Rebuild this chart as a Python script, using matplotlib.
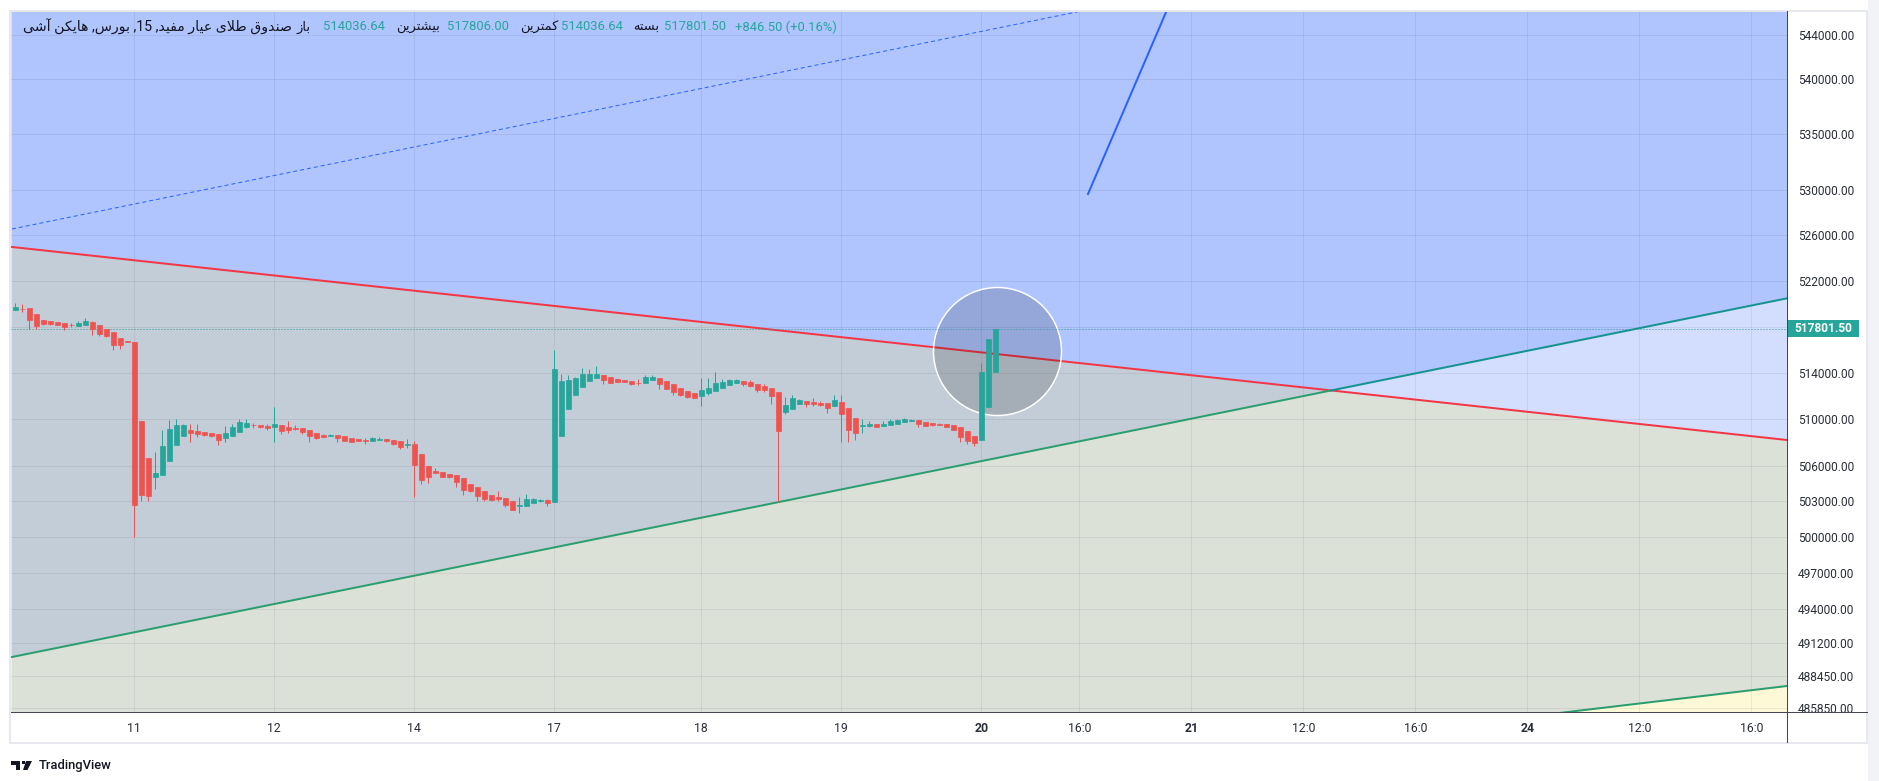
import numpy as np
import matplotlib
matplotlib.use("Agg")
import matplotlib.pyplot as plt
from matplotlib.patches import Rectangle, Polygon
from matplotlib.lines import Line2D
from matplotlib.transforms import IdentityTransform
from matplotlib.ticker import FixedLocator, NullLocator

plt.rcParams['font.family'] = ['Roboto', 'DejaVu Sans']

# Heikin Ashi candles, 15 min bars
# day order: part of previous day, 11, 12, 14, 17, 18, 19, 20
day_names = ['', '11', '12', '14', '17', '18', '19', '20']
day_counts = [17, 20, 20, 20, 21, 20, 20, 3]

opens = [
    519440, 519560, 519590, 519070, 518560, 518470, 518390, 518300, 518160, 518080, 518160, 518390, 518130, 517790, 517530, 517020, 516760,
    516680, 509840, 506680, 505080, 505250, 506450, 507820, 508590, 509070, 508980, 508900, 508810, 508730, 508410, 508590, 508930, 509360, 509530, 509500, 509410,
    509360, 509500, 509330, 509240, 509240, 509070, 508810, 508670, 508590, 508670, 508560, 508390, 508300, 508220, 508160, 508240, 508300, 508220, 508130, 507810,
    507920, 507020, 505990, 505560, 505480, 505310, 505220, 504970, 504450, 504200, 503850, 503510, 503340, 503260, 503000, 502600, 502600, 502860, 503030, 503110,
    502940, 508590, 510870, 512060, 512770, 513260, 513520, 513770, 513600, 513430, 513340, 513260, 513150, 513090, 513340, 513520, 513260, 513000, 512660, 512400, 512230,
    511980, 512230, 512400, 512660, 512920, 513090, 513260, 513170, 513000, 512830, 512660, 512320, 510610, 510870, 511290, 511550, 511460, 511380, 511380, 511120,
    511460, 510950, 510100, 509440, 509410, 509580, 509440, 509530, 509610, 509780, 509870, 509920, 509750, 509670, 509610, 509610, 509530, 509360, 509010, 508590,
    508240, 511060, 514036.64,
]
highs = [
    520010, 519930, 519590, 519070, 518560, 518470, 518390, 518300, 518300, 518470, 518730, 518470, 518130, 517790, 517530, 517020, 516760,
    516680, 509840, 506680, 507190, 509070, 509930, 510010, 509580, 509580, 509580, 508900, 508810, 508730, 509410, 509580, 510010, 510010, 509670, 509500, 509580,
    511040, 509500, 509840, 509500, 509240, 509070, 508810, 508730, 508760, 508670, 508560, 508390, 508300, 508410, 508470, 508470, 508300, 508220, 508130, 508300,
    508160, 507020, 505990, 505820, 505480, 505310, 505220, 504970, 504450, 504200, 503850, 503510, 503880, 503260, 503000, 503370, 503600, 503260, 503200, 503200,
    516000, 513860, 513770, 513600, 514370, 514290, 514540, 513770, 513600, 513430, 513340, 513260, 513430, 513770, 513770, 513520, 513260, 513000, 512660, 512400, 512230,
    513520, 513520, 514030, 513430, 513430, 513430, 513260, 513340, 513000, 513000, 512660, 512320, 511890, 512060, 511720, 511550, 511810, 511550, 511380, 512060,
    512060, 510950, 510100, 510010, 509840, 509580, 509840, 510010, 510040, 510120, 510040, 509920, 509750, 509670, 509670, 509610, 509530, 509360, 509010, 508590,
    514880, 516940, 517806.00,
]
lows = [
    519440, 519270, 517760, 517760, 518160, 518160, 518160, 517730, 517990, 518080, 518160, 517280, 517190, 517050, 516000, 516080, 516620,
    500040, 503030, 503030, 504030, 505250, 506450, 507820, 508590, 508070, 508500, 508590, 508500, 507820, 508070, 508590, 508930, 509270, 509270, 509270, 509100,
    508070, 508760, 508840, 509100, 508760, 508070, 508330, 508500, 508590, 508070, 508160, 508070, 508160, 507900, 508160, 508240, 508070, 507820, 507470, 507560,
    503370, 504480, 504570, 505390, 505080, 504990, 504220, 503540, 503800, 503030, 503030, 503030, 503030, 502510, 502260, 502000, 502600, 502860, 502940, 502600,
    502940, 508590, 510870, 512060, 512770, 513260, 513520, 513000, 513090, 513170, 513170, 512920, 512920, 513090, 513340, 512580, 512580, 512060, 511980, 511810, 511810,
    511120, 512060, 512400, 512660, 512920, 513090, 512830, 512750, 512320, 512320, 511290, 502940, 510440, 510870, 511290, 511040, 511120, 511120, 510520, 511120,
    508070, 508070, 508240, 508840, 509360, 509360, 509440, 509530, 509610, 509780, 509870, 509360, 509440, 509440, 509530, 509360, 509100, 508070, 507900, 507730,
    508240, 511060, 514036.64,
]
closes = [
    519670, 519500, 518590, 518080, 518250, 518250, 518160, 517990, 518100, 518330, 518470, 517790, 517390, 517220, 516420, 516370, 516620,
    502740, 503540, 503460, 505390, 507700, 509160, 509500, 509500, 508840, 508760, 508670, 508590, 508240, 508810, 509330, 509750, 509670, 509470, 509360, 509270,
    509580, 509010, 509100, 509180, 508930, 508590, 508410, 508500, 508670, 508410, 508160, 508070, 508160, 508160, 508390, 508300, 508130, 507900, 507640, 507920,
    506110, 504820, 505080, 505390, 505080, 505080, 504650, 503970, 503850, 503460, 503200, 503110, 503200, 502690, 502260, 502690, 503170, 503200, 503110, 502860,
    514290, 513260, 513340, 513520, 513860, 513860, 513860, 513340, 513090, 513170, 513170, 513000, 513090, 513600, 513600, 513000, 512580, 512320, 512060, 511890, 511810,
    512490, 512660, 513090, 513170, 513340, 513340, 513000, 512830, 512490, 512490, 511980, 508980, 511210, 511810, 511630, 511290, 511290, 511210, 510950, 511630,
    510470, 509100, 508840, 509530, 509610, 509360, 509610, 509870, 509950, 510040, 509950, 509610, 509440, 509530, 509530, 509360, 509100, 508500, 508160, 507990,
    514030, 516940, 517801.50,
]
last_price = 517801.50
change_text = '+846.50 (+0.16%)'

# price axis labels (518000 sits under the last price tag)
price_ticks = [544000, 540000, 535000, 530000, 526000, 522000, 518000, 514000, 510000,
               506000, 503000, 500000, 497000, 494000, 491200, 488450, 485850]
hidden_tick = 518000
future_labels = ['16:0', '21', '12:0', '16:0', '24', '12:0', '16:0']
bold_labels = ['20', '21', '24']

# drawings: (bar index, price) end points
red_line = [(-0.47, 524970), (253.1, 508220)]
rise_line = [(-0.47, 490030), (253.1, 520460)]
dash_line = [(-0.47, 526560), (151.96, 546150)]
blue_line = [(153.24, 529660), (164.4, 546100)]
low_line = [(222.96, 485605), (253.1, 487650)]
circle_center = (140.3, 515850)

UP = '#26a69a'
DOWN = '#ef5350'
TXT = '#131722'
PX = 0.72  # one pixel in points at dpi 100

W, H = 1879, 781
fig = plt.figure(figsize=(W / 100, H / 100), dpi=100)
fig.patch.set_facecolor('white')
ax = fig.add_axes([11 / W, 69 / H, 1776 / W, 700.5 / H])
ax.set_yscale('log')
xlo, xhi = -0.61, 253.1
ylo, yhi = 485524, 546150
ax.set_xlim(xlo, xhi)
ax.set_ylim(ylo, yhi)


def line_fn(pts):
    (x0, y0), (x1, y1) = pts
    b = (np.log(y1) - np.log(y0)) / (x1 - x0)
    a = np.log(y0) - b * x0
    return a, b


def line_at(pts, xs):
    a, b = line_fn(pts)
    return np.exp(a + b * np.asarray(xs))


# background zones
xs = np.linspace(xlo, xhi, 900)
r = line_at(red_line, xs)
g = line_at(rise_line, xs)
b2 = line_at(low_line, xs)
ax.fill_between(xs, np.maximum(r, g), yhi, color='#b0c4fe', lw=0, zorder=0.5)
ax.fill_between(xs, g, r, where=r >= g, interpolate=True, color='#c3cdd7', lw=0, zorder=0.5)
ax.fill_between(xs, r, g, where=g >= r, interpolate=True, color='#d3ddfe', lw=0, zorder=0.5)
ax.fill_between(xs, ylo, np.minimum(r, g), color='#dce1d8', lw=0, zorder=0.5)
ax.fill_between(xs, ylo * 0.99, b2, where=b2 > ylo * 0.99, color='#fdf8d6', lw=0, zorder=0.6)

# trend lines
ar, br = line_fn(red_line)
ag, bg = line_fn(rise_line)
x_cross = (ar - ag) / (bg - br)
ax.plot([red_line[0][0], red_line[1][0]], [red_line[0][1], red_line[1][1]], color='#f23645', lw=2 * PX, zorder=2)
ax.plot([rise_line[0][0], x_cross], line_at(rise_line, [rise_line[0][0], x_cross]), color='#2b9e6f', lw=2 * PX, zorder=2)
ax.plot([x_cross, rise_line[1][0]], line_at(rise_line, [x_cross, rise_line[1][0]]), color='#15938f', lw=2 * PX, zorder=2)
xd = [dash_line[0][0], 175]
ax.plot(xd, line_at(dash_line, xd), color='#2962ff', lw=1 * PX, ls=(0, (4, 3)), zorder=2)
ax.plot([blue_line[0][0], blue_line[1][0]], [blue_line[0][1], blue_line[1][1]], color='#2962ff', lw=2 * PX, zorder=2)
xl = [200, xhi]
ax.plot(xl, line_at(low_line, xl), color='#2b9e6f', lw=2 * PX, zorder=2)

# highlight circle
ax.scatter([circle_center[0]], [circle_center[1]], s=(128 * PX) ** 2, marker='o',
           facecolors=[(0, 0, 0, 0.15)], edgecolors='white', linewidths=1.5 * PX, zorder=2.5)

# last price line
ax.axhline(last_price, color='#2a9d9a', lw=1 * PX, ls=(0, (1, 2)), zorder=3)

# candles
o = np.array(opens)
h = np.array(highs)
l = np.array(lows)
c = np.array(closes)
x = np.arange(len(o))
cols = np.where(c >= o, UP, DOWN)
ax.vlines(x, l, h, colors=cols, lw=1 * PX, zorder=4)
ax.bar(x, np.abs(c - o), bottom=np.minimum(o, c), width=0.7, color=cols,
       edgecolor=cols, linewidth=0.5, zorder=5)

# axes and grid
starts = np.cumsum([0] + day_counts[:-1])
xticks = list(starts[1:])
xlabels = day_names[1:]
last_day = starts[-1]
for k, lab in enumerate(future_labels):
    xticks.append(last_day + 14 + 16 * k)
    xlabels.append(lab)
ax.set_xticks(xticks)
ax.set_xticklabels(xlabels)
for t in ax.get_xticklabels():
    if t.get_text() in bold_labels:
        t.set_fontweight('bold')
ax.yaxis.set_major_locator(FixedLocator(price_ticks))
ax.yaxis.set_minor_locator(NullLocator())
ax.set_yticklabels(['' if v == hidden_tick else f'{v:.2f}' for v in price_ticks])
ax.yaxis.tick_right()
ax.tick_params(axis='y', length=0, pad=8, labelsize=8.6, labelcolor='#2a2e39')
ax.tick_params(axis='x', length=0, pad=7, labelsize=8.8, labelcolor='#2a2e39')
ax.grid(True, color='#2a2e39', alpha=0.08, lw=1 * PX)
for s in ax.spines.values():
    s.set_visible(False)

# frame lines in pixels
fig.add_artist(Rectangle((10, H - 743), 1857, 732, transform=IdentityTransform(),
                         fill=False, ec='#e6e8ee', lw=2 * PX))
fig.add_artist(Rectangle((1868, 0), 11, H, transform=IdentityTransform(), fc='#f2f3f7', ec='none'))
fig.add_artist(Line2D([11, 1867], [H - 712, H - 712], transform=IdentityTransform(), color='#434651', lw=1 * PX))
fig.add_artist(Line2D([1787, 1787], [H - 742, H - 11], transform=IdentityTransform(), color='#434651', lw=1 * PX))

# last price tag
fig.canvas.draw()
_, ty = ax.transData.transform((0, last_price))
fig.add_artist(Rectangle((1787, ty - 8.5), 72, 17, transform=IdentityTransform(), fc=UP, ec='none'))
fig.text(1823 / W, ty / H, f'{last_price:.2f}', ha='center', va='center', color='white',
         fontsize=8.6, fontweight='bold')


# persian text shaping (presentation forms, visual order)
FORMS = {
    'ا': ('\uFE8D', '\uFE8E', None, None), 'آ': ('\uFE81', '\uFE82', None, None),
    'ب': ('\uFE8F', '\uFE90', '\uFE91', '\uFE92'), 'ت': ('\uFE95', '\uFE96', '\uFE97', '\uFE98'),
    'د': ('\uFEA9', '\uFEAA', None, None), 'ر': ('\uFEAD', '\uFEAE', None, None),
    'ز': ('\uFEAF', '\uFEB0', None, None),
    'س': ('\uFEB1', '\uFEB2', '\uFEB3', '\uFEB4'), 'ش': ('\uFEB5', '\uFEB6', '\uFEB7', '\uFEB8'),
    'ص': ('\uFEB9', '\uFEBA', '\uFEBB', '\uFEBC'), 'ط': ('\uFEC1', '\uFEC2', '\uFEC3', '\uFEC4'),
    'ع': ('\uFEC9', '\uFECA', '\uFECB', '\uFECC'), 'ف': ('\uFED1', '\uFED2', '\uFED3', '\uFED4'),
    'ق': ('\uFED5', '\uFED6', '\uFED7', '\uFED8'), 'ک': ('\uFB8E', '\uFB8F', '\uFB90', '\uFB91'),
    'ل': ('\uFEDD', '\uFEDE', '\uFEDF', '\uFEE0'), 'م': ('\uFEE1', '\uFEE2', '\uFEE3', '\uFEE4'),
    'ن': ('\uFEE5', '\uFEE6', '\uFEE7', '\uFEE8'), 'ه': ('\uFEE9', '\uFEEA', '\uFEEB', '\uFEEC'),
    'و': ('\uFEED', '\uFEEE', None, None), 'ی': ('\uFBFC', '\uFBFD', '\uFBFE', '\uFBFF'),
    'لا': ('\uFEFB', '\uFEFC', None, None), 'لآ': ('\uFEF5', '\uFEF6', None, None),
}


def shape_word(w):
    toks = []
    i = 0
    while i < len(w):
        if w[i] == 'ل' and i + 1 < len(w) and w[i + 1] in 'اآ':
            toks.append(w[i:i + 2])
            i += 2
        else:
            toks.append(w[i])
            i += 1
    out = []
    for k, t in enumerate(toks):
        f = FORMS[t]
        prev = k > 0 and FORMS[toks[k - 1]][2] is not None
        nxt = k < len(toks) - 1 and f[2] is not None
        if prev and nxt:
            out.append(f[3])
        elif prev:
            out.append(f[1])
        elif nxt:
            out.append(f[2])
        else:
            out.append(f[0])
    return ''.join(reversed(out))


def fa(s):
    return ' '.join(shape_word(w) for w in reversed(s.split(' ')))


title = fa('هایکن آشی') + ' ,' + fa('بورس') + ' ,15 ,' + fa('صندوق طلای عیار مفید')
header = [
    (fa('باز'), TXT, 296), ('514036.64', UP, 323),
    (fa('بیشترین'), TXT, 396), ('517806.00', UP, 447),
    (fa('کمترین'), TXT, 520), ('514036.64', UP, 561),
    (fa('بسته'), TXT, 633), (f'{last_price:.2f}', UP, 664),
    (change_text, UP, 735),
]
ty_head = (H - 27) / H
# title: widen font until it fills its slot (23 .. 293 px)
t_title = fig.text(23 / W, ty_head, title, ha='left', va='center', color=TXT, fontsize=9.4)
wt = t_title.get_window_extent(fig.canvas.get_renderer()).width
t_title.set_fontsize(9.4 * 268 / wt)
for txt, col, xp in header:
    fig.text(xp / W, ty_head, txt, ha='left', va='center', color=col, fontsize=9.4)

# TradingView mark
fig.add_artist(Rectangle((11, H - 764.5), 9, 3.5, transform=IdentityTransform(), fc=TXT, ec='none'))
fig.add_artist(Rectangle((15.5, H - 770), 4.5, 9, transform=IdentityTransform(), fc=TXT, ec='none'))
fig.add_artist(Polygon([(22, H - 761), (24.5, H - 761), (24.5, H - 764), (22, H - 764)],
                       transform=IdentityTransform(), fc=TXT, ec='none'))
fig.add_artist(Polygon([(26, H - 761), (32, H - 761), (27.5, H - 770), (23, H - 770)],
                       transform=IdentityTransform(), fc=TXT, ec='none'))
fig.text(39 / W, (H - 765.5) / H, 'TradingView', ha='left', va='center', color=TXT,
         fontsize=9.4, fontweight='medium')

fig.savefig('out.png', dpi=100)
